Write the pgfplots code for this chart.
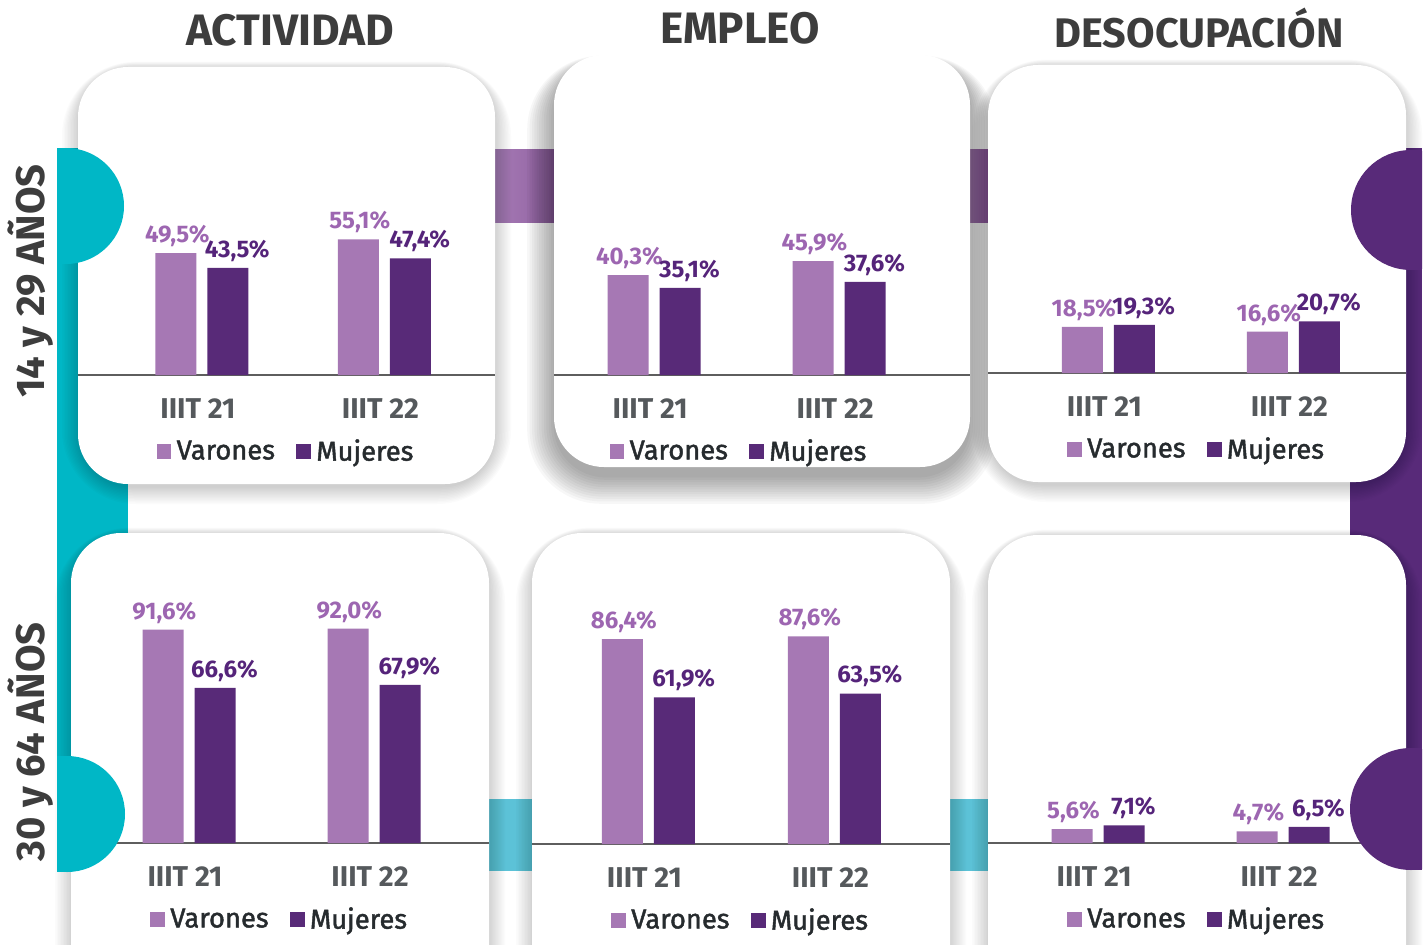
\documentclass[border=0pt]{standalone}
\usepackage{pgfplots}
\pgfplotsset{compat=1.18}
\usepackage{fontspec}
\setmainfont{Fira Sans}
\newfontfamily\medfont{Fira Sans}[FakeBold=1.6]
\definecolor{teal1}{HTML}{00B7C6}
\definecolor{purp}{HTML}{582A79}
\definecolor{connA}{HTML}{A57AB4}
\definecolor{connB}{HTML}{9162A2}
\definecolor{conn2}{HTML}{5CC2D7}
\definecolor{varc}{HTML}{A678B4}
\definecolor{mujc}{HTML}{582A78}
\definecolor{varlab}{HTML}{9D66B1}
\definecolor{mujlab}{HTML}{55247A}
\definecolor{titleg}{HTML}{3D3D3D}
\definecolor{tickg}{HTML}{55595C}
\definecolor{axisg}{HTML}{5E5E5E}
\definecolor{legt}{HTML}{262B2E}

\pgfplotsset{
  panel/.style={
    anchor=south west, clip=false, ymin=0, ymax=100,
    axis x line*=bottom, axis y line=none,
    axis line style={draw=axisg, line width=1.6pt},
    xtick={0,1}, xticklabels={IIIT 21,IIIT 22}, major tick length=0pt,
    xticklabel style={font=\bfseries\fontsize{21.5}{24}\selectfont, text=tickg, yshift=-14pt, xshift=-3pt},
    ybar, bar width=30.75pt,
    nodes near coords={\pgfmathprintnumber{\pgfplotspointmeta}\%},
    /pgf/number format/fixed, /pgf/number format/fixed zerofill,
    /pgf/number format/precision=1, /pgf/number format/use comma,
    /pgf/number format/assume math mode=true,
    every node near coord/.append style={font=\bfseries\fontsize{18}{20}\selectfont, inner sep=4.5pt},
    legend columns=2,
    legend style={at={(0.5,0)}, anchor=center, yshift=-57pt, draw=none, fill=none,
      font=\medfont\fontsize{20.5}{24}\selectfont, text=legt,
      /tikz/every odd column/.append style={column sep=2pt},
      /tikz/every even column/.append style={column sep=14pt}},
    legend image code/.code={\fill[##1] (-1pt,-6pt) rectangle (10pt,5pt);},
  },
  varbar/.style={fill=varc, draw=none, bar shift=-19.5pt,
    every node near coord/.append style={text=varlab, xshift=1pt}},
  mujbar/.style={fill=mujc, draw=none, bar shift=19.5pt,
    every node near coord/.append style={text=mujlab, xshift=7pt}},
}

% x1 y1 x2 y2 opacity offset step
\newcommand\shadowpanel[7]{%
  \foreach \i in {1,...,12}{%
    \pgfmathsetmacro\rr{37.5+\i*1.5}%
    \fill[black,opacity=#5,rounded corners=\rr pt] ({#1-\i*#7+2},{#2+#6-\i*0.6}) rectangle ({#3+\i*#7-2},{#4+\i*#7+#6});
  }
  \fill[white,rounded corners=37.5pt] (#1,#2) rectangle (#3,#4);
}

\begin{document}
\begin{tikzpicture}[x=0.75pt,y=-0.75pt]
\useasboundingbox (0,0) rectangle (1424,945);
\clip (0,0) rectangle (1424,945);
\fill[white] (0,0) rectangle (1424,945);

% side bars
\fill[teal1] (57,148) rectangle (128,872);
\fill[purp] (1350,148) rectangle (1422,870);
% connectors
\shade[left color=connA, right color=connB] (495,150) rectangle (554,222);
\shade[left color=connA, right color=connB] (970,150) rectangle (988,222);
\fill[conn2] (489,799) rectangle (532,871);
\fill[conn2] (950,799) rectangle (988,871);

% panels
\shadowpanel{78}{67}{495}{484}{0.014}{2}{1.5}
\shadowpanel{554}{55}{970}{467}{0.03}{8}{2.4}
\shadowpanel{988}{65}{1406}{482}{0.014}{2}{1.5}
\shadowpanel{71}{533}{489}{1000}{0.014}{2}{1.5}
\shadowpanel{532}{533}{950}{1000}{0.014}{2}{1.5}
\shadowpanel{988}{535}{1406}{1000}{0.014}{2}{1.5}

\coordinate (A1) at (78,375);
\coordinate (A2) at (554,375);
\coordinate (A3) at (988,373);
\coordinate (A4) at (71,843);
\coordinate (A5) at (532,844);
\coordinate (A6) at (988,843);

\begin{axis}[panel, at={(A1)}, x=136.875pt, y=1.845pt, xmin=-0.679, xmax=1.605]
\addplot[varbar] coordinates {(0,49.5) (1,55.1)};
\addplot[mujbar] coordinates {(0,43.5) (1,47.4)};
\legend{Varones,Mujeres}
\end{axis}

\begin{axis}[panel, at={(A2)}, x=138.75pt, y=1.86pt, xmin=-0.541, xmax=1.708,
  legend style={xshift=-17pt}]
\addplot[varbar] coordinates {(0,40.3) (1,45.9)};
\addplot[mujbar] coordinates {(0,35.1) (1,37.6)};
\legend{Varones,Mujeres}
\end{axis}

\begin{axis}[panel, at={(A3)}, x=138.75pt, y=1.8675pt, xmin=-0.651, xmax=1.608]
\addplot[varbar] coordinates {(0,18.5) (1,16.6)};
\addplot[mujbar] coordinates {(0,19.3) (1,20.7)};
\legend{Varones,Mujeres}
\end{axis}

\begin{axis}[panel, at={(A4)}, x=138.75pt, y=1.7475pt, xmin=-0.638, xmax=1.622]
\addplot[varbar] coordinates {(0,91.6) (1,92.0)};
\addplot[mujbar] coordinates {(0,66.6) (1,67.9)};
\legend{Varones,Mujeres}
\end{axis}

\begin{axis}[panel, at={(A5)}, x=139.5pt, y=1.7775pt, xmin=-0.626, xmax=1.621]
\addplot[varbar] coordinates {(0,86.4) (1,87.6)};
\addplot[mujbar] coordinates {(0,61.9) (1,63.5)};
\legend{Varones,Mujeres}
\end{axis}

\begin{axis}[panel, at={(A6)}, x=138.75pt, y=1.875pt, xmin=-0.595, xmax=1.665]
\addplot[varbar] coordinates {(0,5.6) (1,4.7)};
\addplot[mujbar] coordinates {(0,7.1) (1,6.5)};
\legend{Varones,Mujeres}
\end{axis}

% D shapes
\begin{scope}
\clip (57,0) rectangle (300,945);
\fill[teal1] (66,206) circle[radius=58];
\fill[teal1] (67,814) circle[radius=58];
\end{scope}
\fill[teal1] (57,148) rectangle (66,264);
\fill[teal1] (57,756) rectangle (67,872);
\begin{scope}
\clip (1200,0) rectangle (1422,945);
\fill[purp] (1411,210) circle[radius=60];
\fill[purp] (1411,809) circle[radius=61];
\end{scope}
\fill[purp] (1411,150) rectangle (1422,270);
\fill[purp] (1411,748) rectangle (1422,870);

% titles
\node[anchor=base, font=\bfseries\fontsize{33}{36}\selectfont, text=titleg] at (290,46) {ACTIVIDAD};
\node[anchor=base, font=\bfseries\fontsize{33}{36}\selectfont, text=titleg] at (740,44) {EMPLEO};
\node[anchor=base, font=\bfseries\fontsize{31}{36}\selectfont, text=titleg] at (1199,48) {DESOCUPACIÓN};
\node[rotate=90, anchor=base, font=\bfseries\fontsize{30}{36}\selectfont, text=titleg] at (44,281) {14 y 29 AÑOS};
\node[rotate=90, anchor=base, font=\bfseries\fontsize{30}{36}\selectfont, text=titleg] at (44,742) {30 y 64 AÑOS};
\end{tikzpicture}
\end{document}
